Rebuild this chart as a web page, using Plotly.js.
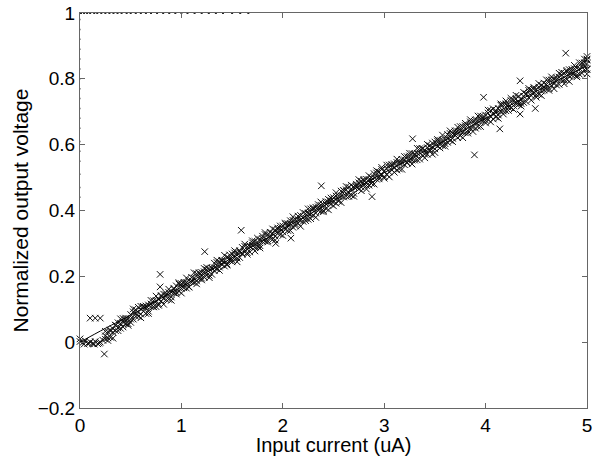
<!DOCTYPE html>
<html>
<head>
<meta charset="utf-8">
<script src="https://cdn.plot.ly/plotly-3.0.1.min.js"></script>
<style>
html,body{margin:0;padding:0;background:#fff;}
#chart{width:595px;height:456px;}
</style>
</head>
<body>
<div id="chart"></div>
<script>
// Input current sweep positions (uA)
const currentX = [
0.250,0.275,0.300,0.325,0.350,0.375,0.400,0.425,0.450,0.475,
0.500,0.525,0.550,0.575,0.600,0.625,0.650,0.675,0.700,0.725,
0.750,0.775,0.800,0.825,0.850,0.875,0.900,0.925,0.950,0.975,
1.000,1.025,1.050,1.075,1.100,1.125,1.150,1.175,1.200,1.225,
1.250,1.275,1.300,1.325,1.350,1.375,1.400,1.425,1.450,1.475,
1.500,1.525,1.550,1.575,1.600,1.625,1.650,1.675,1.700,1.725,
1.750,1.775,1.800,1.825,1.850,1.875,1.900,1.925,1.950,1.975,
2.000,2.025,2.050,2.075,2.100,2.125,2.150,2.175,2.200,2.225,
2.250,2.275,2.300,2.325,2.350,2.375,2.400,2.425,2.450,2.475,
2.500,2.525,2.550,2.575,2.600,2.625,2.650,2.675,2.700,2.725,
2.750,2.775,2.800,2.825,2.850,2.875,2.900,2.925,2.950,2.975,
3.000,3.025,3.050,3.075,3.100,3.125,3.150,3.175,3.200,3.225,
3.250,3.275,3.300,3.325,3.350,3.375,3.400,3.425,3.450,3.475,
3.500,3.525,3.550,3.575,3.600,3.625,3.650,3.675,3.700,3.725,
3.750,3.775,3.800,3.825,3.850,3.875,3.900,3.925,3.950,3.975,
4.000,4.025,4.050,4.075,4.100,4.125,4.150,4.175,4.200,4.225,
4.250,4.275,4.300,4.325,4.350,4.375,4.400,4.425,4.450,4.475,
4.500,4.525,4.550,4.575,4.600,4.625,4.650,4.675,4.700,4.725,
4.750,4.775,4.800,4.825,4.850,4.875,4.900,4.925,4.950,4.975,5.000
];
// Measured normalized output, sweep A
const sweepA = [
0.019,0.013,0.037,0.030,0.051,0.035,0.057,0.072,0.056,0.071,
0.070,0.092,0.087,0.078,0.109,0.094,0.110,0.094,0.116,0.126,
0.126,0.116,0.142,0.132,0.148,0.130,0.152,0.164,0.152,0.177,
0.163,0.182,0.164,0.188,0.187,0.181,0.208,0.193,0.212,0.197,
0.220,0.203,0.225,0.240,0.223,0.244,0.235,0.231,0.258,0.254,
0.250,0.271,0.255,0.274,0.288,0.274,0.290,0.274,0.294,0.306,
0.304,0.293,0.322,0.307,0.326,0.324,0.312,0.341,0.330,0.346,
0.353,0.342,0.355,0.369,0.349,0.372,0.361,0.385,0.378,0.369,
0.392,0.405,0.386,0.410,0.400,0.416,0.400,0.420,0.434,0.419,
0.439,0.422,0.444,0.459,0.441,0.463,0.453,0.446,0.472,0.471,
0.465,0.489,0.478,0.495,0.477,0.500,0.512,0.495,0.517,0.509,
0.520,0.509,0.538,0.523,0.542,0.523,0.547,0.546,0.539,0.564,
0.553,0.573,0.553,0.574,0.588,0.568,0.584,0.571,0.597,0.593,
0.608,0.595,0.613,0.597,0.616,0.631,0.613,0.635,0.628,0.621,
0.642,0.655,0.636,0.659,0.650,0.670,0.650,0.673,0.687,0.673,
0.690,0.676,0.704,0.695,0.684,0.710,0.701,0.722,0.703,0.723,
0.712,0.736,0.725,0.747,0.725,0.747,0.755,0.743,0.766,0.756,
0.769,0.753,0.780,0.776,0.769,0.796,0.780,0.800,0.781,0.805,
0.797,0.817,0.798,0.828,0.811,0.831,0.811,0.832,0.848,0.828,0.846
];
// Measured normalized output, sweep B
const sweepB = [
0.009,0.032,0.015,0.041,0.035,0.059,0.042,0.060,0.073,0.056,
0.084,0.070,0.098,0.091,0.085,0.109,0.087,0.113,0.108,0.107,
0.108,0.130,0.125,0.146,0.129,0.151,0.137,0.150,0.171,0.155,
0.178,0.165,0.181,0.168,0.197,0.194,0.186,0.209,0.189,0.214,
0.203,0.222,0.206,0.226,0.242,0.228,0.247,0.247,0.237,0.265,
0.268,0.257,0.272,0.257,0.269,0.291,0.272,0.293,0.302,0.288,
0.290,0.312,0.306,0.327,0.308,0.334,0.331,0.322,0.347,0.327,
0.335,0.359,0.339,0.360,0.370,0.359,0.383,0.370,0.367,0.391,
0.373,0.388,0.405,0.392,0.418,0.398,0.418,0.406,0.425,0.438,
0.426,0.444,0.428,0.445,0.460,0.443,0.471,0.466,0.452,0.480,
0.484,0.471,0.494,0.476,0.494,0.482,0.500,0.514,0.502,0.525,
0.503,0.528,0.517,0.540,0.529,0.546,0.526,0.555,0.554,0.544,
0.566,0.553,0.572,0.554,0.575,0.588,0.571,0.591,0.584,0.605,
0.587,0.611,0.590,0.614,0.603,0.619,0.634,0.619,0.642,0.641,
0.627,0.638,0.658,0.642,0.669,0.652,0.668,0.655,0.675,0.686,
0.674,0.696,0.685,0.678,0.704,0.690,0.720,0.702,0.724,0.704,
0.734,0.719,0.739,0.722,0.740,0.728,0.753,0.765,0.749,0.769,
0.752,0.775,0.763,0.787,0.783,0.771,0.797,0.785,0.803,0.783,
0.812,0.797,0.822,0.808,0.829,0.811,0.833,0.814,0.835,0.849,0.830
];
// Measured normalized output, sweep C
const sweepC = [
0.033,0.005,0.034,0.012,0.052,0.043,0.071,0.046,0.067,0.051,
0.060,0.101,0.078,0.106,0.074,0.107,0.105,0.087,0.127,0.108,
0.140,0.112,0.139,0.115,0.144,0.161,0.127,0.161,0.146,0.181,
0.149,0.178,0.195,0.167,0.182,0.211,0.177,0.211,0.194,0.224,
0.227,0.196,0.225,0.217,0.249,0.218,0.249,0.264,0.234,0.248,
0.244,0.278,0.244,0.278,0.268,0.298,0.267,0.290,0.308,0.277,
0.316,0.286,0.314,0.333,0.304,0.318,0.344,0.310,0.343,0.353,
0.324,0.362,0.360,0.339,0.381,0.353,0.373,0.352,0.394,0.377,
0.405,0.375,0.408,0.379,0.411,0.426,0.396,0.427,0.402,0.430,
0.414,0.454,0.432,0.424,0.461,0.473,0.443,0.477,0.443,0.475,
0.494,0.460,0.490,0.465,0.506,0.491,0.480,0.521,0.496,0.531,
0.498,0.538,0.502,0.538,0.516,0.556,0.544,0.525,0.564,0.546,
0.574,0.541,0.570,0.589,0.556,0.588,0.560,0.601,0.580,0.571,
0.576,0.616,0.600,0.629,0.595,0.607,0.642,0.609,0.636,0.653,
0.655,0.621,0.665,0.635,0.676,0.640,0.675,0.687,0.655,0.680,
0.666,0.705,0.669,0.709,0.698,0.680,0.724,0.693,0.733,0.713,
0.741,0.707,0.750,0.728,0.717,0.759,0.731,0.771,0.735,0.774,
0.744,0.786,0.749,0.766,0.797,0.765,0.806,0.770,0.797,0.817,
0.820,0.785,0.826,0.792,0.823,0.841,0.806,0.849,0.817,0.860,0.860
];
// Low-current points and outliers
const extraX = [0.000,0.000,0.025,0.050,0.075,0.100,0.125,0.150,0.175,0.200,0.225,
  0.040,0.090,0.140,0.190,0.100,0.150,0.200,0.240,
  0.790,0.790,1.230,1.590,1.930,2.080,2.380,2.880,3.280,3.890,3.980,4.140,4.340,4.340,4.490,4.790,
  5.000,5.000,5.000,5.000];
const extraY = [0.010,0.002,-0.002,0.004,-0.004,0.001,-0.005,0.002,-0.005,0.000,0.006,
  -0.006,-0.004,-0.006,-0.003,0.073,0.073,0.073,-0.036,
  0.206,0.168,0.275,0.340,0.300,0.316,0.475,0.442,0.618,0.569,0.744,0.648,0.794,0.693,0.710,0.878,
  0.815,0.828,0.857,0.868];
// Fitted curve
const fitX = [0, 0.25, 0.5, 1.0, 1.5, 2.0, 2.5, 3.0, 3.5, 4.0, 4.5, 5.0];
const fitY = [0.000, 0.042, 0.082, 0.168, 0.256, 0.343, 0.430, 0.515, 0.596, 0.680, 0.762, 0.840];
// Saturated readings along the top edge and left edge
const satTopX = [0.01,0.04,0.07,0.10,0.14,0.17,0.21,0.25,0.29,0.33,0.37,0.41,0.46,0.50,0.55,0.60,0.65,0.70,0.76,0.82,0.88,0.94,1.00,1.06,1.13,1.20,1.27,1.34,1.41,1.50,1.58,1.66];
const satTopY = [1,1,1,1,1,1,1,1,1,1,1,1,1,1,1,1,1,1,1,1,1,1,1,1,1,1,1,1,1,1,1,1];
const satLeftX = [0,0,0,0,0,0,0,0,0,0,0,0,0,0,0,0,0,0];
const satLeftY = [0.98,0.95,0.92,0.89,0.86,0.83,0.80,0.77,0.74,0.71,0.68,0.65,0.61,0.58,0.55,0.51,0.47,0.44];

const FONT = 'Liberation Sans, Arial, Helvetica, sans-serif';
const mk = {symbol:'x-thin-open', size:6.5, color:'#111', line:{width:1, color:'#111'}};

const traces = [
  {x: currentX, y: sweepA, mode:'markers', type:'scatter', marker: mk, cliponaxis:false},
  {x: currentX, y: sweepB, mode:'markers', type:'scatter', marker: mk, cliponaxis:false},
  {x: currentX, y: sweepC, mode:'markers', type:'scatter', marker: mk, cliponaxis:false},
  {x: extraX, y: extraY, mode:'markers', type:'scatter', marker: mk, cliponaxis:false},
  {x: fitX, y: fitY, mode:'lines', type:'scatter', line:{color:'#000', width:1, shape:'spline'}},
  {x: satTopX, y: satTopY, mode:'markers', type:'scatter', marker:{symbol:'square', size:2, color:'#222'}, cliponaxis:false},
  {x: satLeftX, y: satLeftY, mode:'markers', type:'scatter', marker:{symbol:'square', size:1.5, color:'#888'}, cliponaxis:false}
];

const axisCommon = {
  showgrid:false, zeroline:false, showline:true, linecolor:'#666', linewidth:1,
  mirror:'ticks', ticks:'inside', ticklen:5, tickcolor:'#666', tickwidth:1,
  tickfont:{family:FONT, size:19, color:'#000'}
};

const layout = {
  width:595, height:456,
  margin:{l:80, r:8, t:13, b:48},
  paper_bgcolor:'#fff', plot_bgcolor:'#fff',
  showlegend:false,
  font:{family:FONT, color:'#000'},
  xaxis: Object.assign({}, axisCommon, {
    range:[0,5], tickmode:'linear', tick0:0, dtick:1,
    title:{text:'Input current (uA)', font:{family:FONT, size:20, color:'#000'}, standoff:0}
  }),
  yaxis: Object.assign({}, axisCommon, {
    range:[-0.2,1], tickmode:'linear', tick0:-0.2, dtick:0.2,
    title:{text:'Normalized output voltage', font:{family:FONT, size:21, color:'#000'}, standoff:3}
  })
};

Plotly.newPlot('chart', traces, layout, {displayModeBar:false, staticPlot:true});
</script>
</body>
</html>
